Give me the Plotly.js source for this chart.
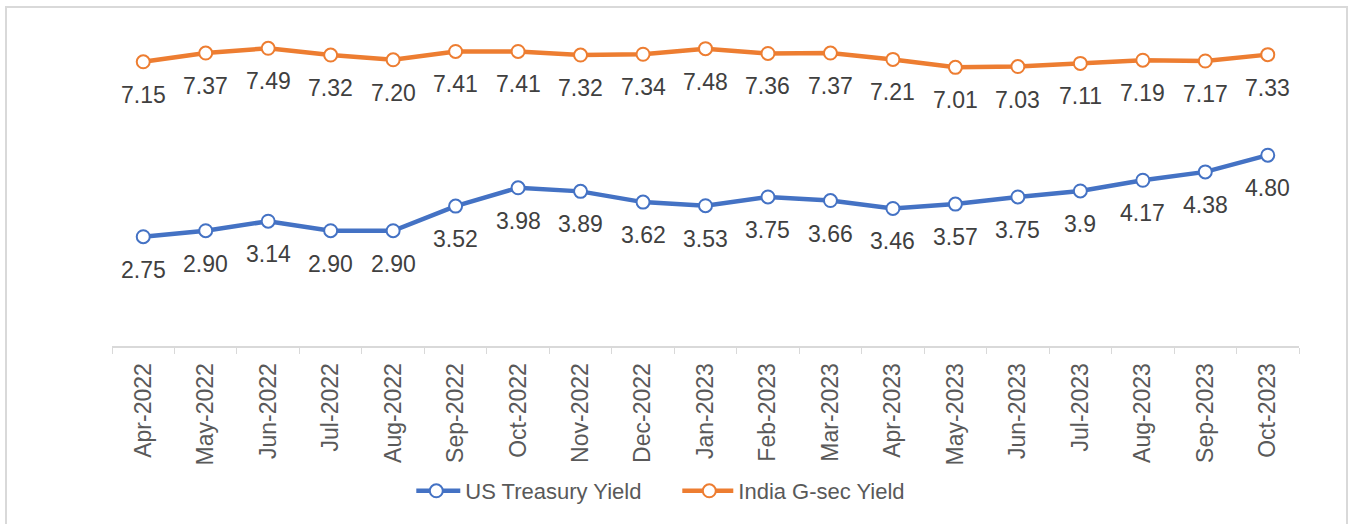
<!DOCTYPE html>
<html>
<head>
<meta charset="utf-8">
<script src="https://cdn.plot.ly/plotly-3.0.1.min.js"></script>
<style>
html,body{margin:0;padding:0;background:#fff;}
#wrap{position:relative;width:1352px;height:524px;overflow:hidden;}
#chart{position:absolute;left:0;top:0;width:1352px;height:524px;}
#frame{position:absolute;left:5px;top:6px;width:1343px;height:560px;border:2px solid #d9d9d9;pointer-events:none;box-sizing:border-box;}
</style>
</head>
<body>
<div id="wrap"><div id="chart"></div><div id="frame"></div></div>
<script>
const months = ["Apr-2022","May-2022","Jun-2022","Jul-2022","Aug-2022","Sep-2022","Oct-2022","Nov-2022","Dec-2022","Jan-2023","Feb-2023","Mar-2023","Apr-2023","May-2023","Jun-2023","Jul-2023","Aug-2023","Sep-2023","Oct-2023"];
const usYield = [2.75,2.90,3.14,2.90,2.90,3.52,3.98,3.89,3.62,3.53,3.75,3.66,3.46,3.57,3.75,3.9,4.17,4.38,4.80];
const usLabels = ["2.75","2.90","3.14","2.90","2.90","3.52","3.98","3.89","3.62","3.53","3.75","3.66","3.46","3.57","3.75","3.9","4.17","4.38","4.80"];
const indiaYield = [7.15,7.37,7.49,7.32,7.20,7.41,7.41,7.32,7.34,7.48,7.36,7.37,7.21,7.01,7.03,7.11,7.19,7.17,7.33];
const indiaLabels = ["7.15","7.37","7.49","7.32","7.20","7.41","7.41","7.32","7.34","7.48","7.36","7.37","7.21","7.01","7.03","7.11","7.19","7.17","7.33"];

const FONT = "Liberation Sans, Arial, sans-serif";
function series(name, y, color){
  return {
    type:'scatter', mode:'lines+markers', name:name,
    x: months, y: y,
    line:{color:color, width:4.5},
    marker:{symbol:'circle', size:13, color:'#ffffff', line:{color:color, width:2}},
    cliponaxis:false, hoverinfo:'skip'
  };
}
const traces = [
  series('US Treasury Yield', usYield, '#4472C4'),
  series('India G-sec Yield', indiaYield, '#ED7D31')
];
const annotations = [];
[[usYield, usLabels],[indiaYield, indiaLabels]].forEach(([ys, ls])=>{
  ys.forEach((v,i)=>{
    annotations.push({x: months[i], y: v, xref:'x', yref:'y', text: ls[i], showarrow:false,
      yshift:-33, font:{family:FONT, size:23, color:'#404040'}});
  });
});
const layout = {
  width:1352, height:524,
  margin:{l:112, r:53, t:28, b:178},
  paper_bgcolor:'#ffffff', plot_bgcolor:'#ffffff',
  font:{family:FONT, size:22, color:'#595959'},
  showlegend:true,
  legend:{orientation:'h', xref:'container', x:419/1352 - 0.002, xanchor:'left', yref:'container', y:0.063, yanchor:'middle',
    font:{family:FONT, size:22, color:'#595959'}, itemwidth:30, entrywidth:228, traceorder:'normal'},
  xaxis:{type:'category', tickangle:-90, tickson:'boundaries', ticks:'outside', ticklen:6, tickcolor:'#d9d9d9',
    showline:true, linecolor:'#d9d9d9', linewidth:2, showgrid:false, zeroline:false, ticklabelstandoff:6,
    tickfont:{family:FONT, size:23, color:'#595959'}, range:[-0.5,18.5], fixedrange:true},
  yaxis:{range:[0,8], showticklabels:false, showgrid:false, zeroline:false, showline:false, ticks:'', fixedrange:true},
  annotations: annotations
};
Plotly.newPlot('chart', traces, layout, {displayModeBar:false, staticPlot:true}).then(()=>{
  document.querySelectorAll('.legend .legendlines path').forEach(p=>p.setAttribute('d','M-7,0h51'));
  document.querySelectorAll('.legend .legendtext').forEach(t=>t.setAttribute('x', 49));
});
</script>
</body>
</html>
